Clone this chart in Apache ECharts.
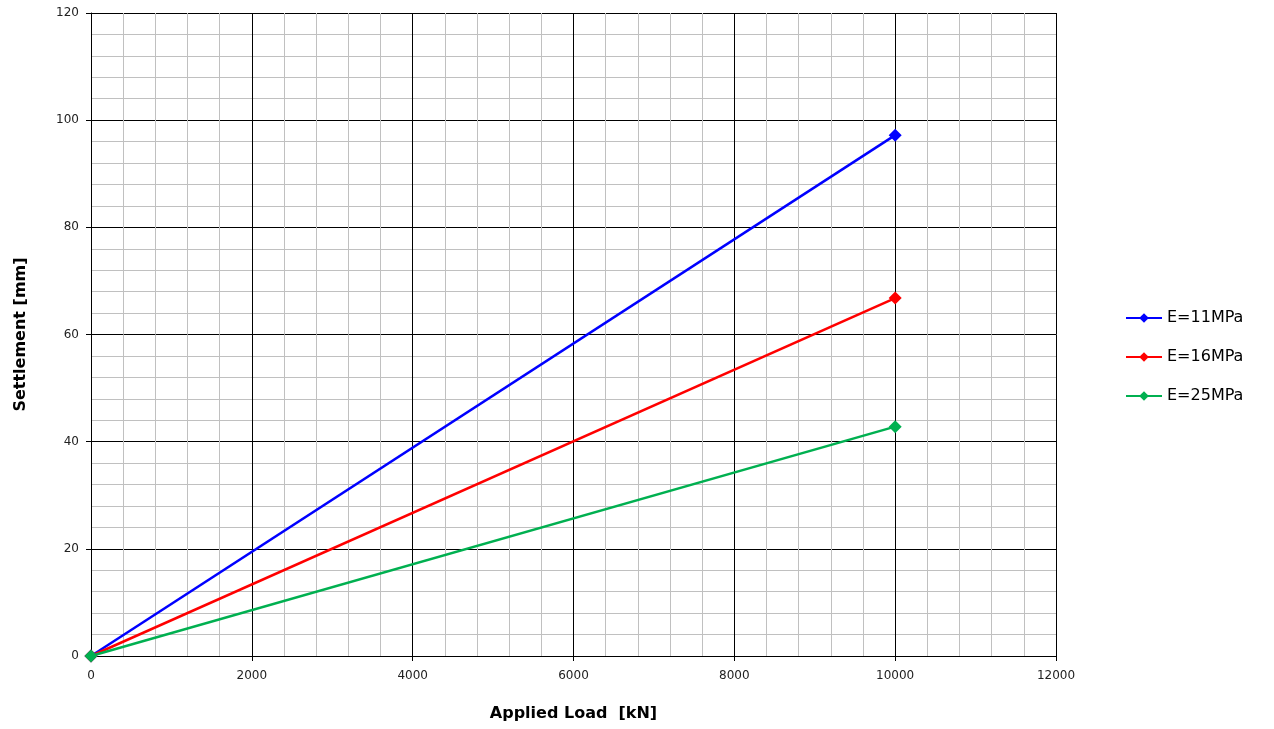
<!DOCTYPE html>
<html>
<head>
<meta charset="utf-8">
<script src="https://cdn.jsdelivr.net/npm/echarts@6/dist/echarts.min.js"></script>
<style>html,body{margin:0;padding:0;background:#fff}#c{width:1274px;height:729px}</style>
</head>
<body>
<div id="c"></div>
<script>
const seriesNames = ['E=11MPa', 'E=16MPa', 'E=25MPa'];
const seriesColors = ['#0000ff', '#ff0000', '#00b050'];
const loads = [0, 10000];
const settlement11 = [0, 97.2];
const settlement16 = [0, 66.8];
const settlement25 = [0, 42.8];

const allValues = [settlement11, settlement16, settlement25];
const chart = echarts.init(document.getElementById('c'));
const font = 'DejaVu Sans';
chart.setOption({
  animation: false,
  grid: {left: 91, top: 13, width: 965, height: 643},
  legend: {
    orient: 'vertical', left: 1120, top: 305, itemGap: 23, itemWidth: 36, itemHeight: 12,
    textStyle: {fontFamily: font, fontSize: 16, color: '#000'},
    data: seriesNames
  },
  xAxis: {
    type: 'value', min: 0, max: 12000, interval: 2000,
    name: 'Applied Load  [kN]', nameLocation: 'middle', nameGap: 50,
    nameTextStyle: {fontFamily: font, fontSize: 16, fontWeight: 'bold', color: '#000'},
    axisLine: {lineStyle: {color: '#000', width: 1}},
    axisTick: {show: true, length: 5, lineStyle: {color: '#000'}},
    axisLabel: {fontFamily: font, fontSize: 12, color: '#222', margin: 14, formatter: v => String(v)},
    splitLine: {lineStyle: {color: '#000', width: 1}},
    minorTick: {show: false, splitNumber: 5},
    minorSplitLine: {show: true, lineStyle: {color: '#c0c0c0', width: 1}}
  },
  yAxis: {
    type: 'value', min: 0, max: 120, interval: 20,
    name: 'Settlement [mm]', nameLocation: 'middle', nameGap: 62, nameRotate: 90,
    nameTextStyle: {fontFamily: font, fontSize: 16, fontWeight: 'bold', color: '#000'},
    axisLine: {show: true, lineStyle: {color: '#000', width: 1}},
    axisTick: {show: true, length: 5, lineStyle: {color: '#000'}},
    axisLabel: {fontFamily: font, fontSize: 12, color: '#222', margin: 12},
    splitLine: {lineStyle: {color: '#000', width: 1}},
    minorTick: {show: false, splitNumber: 5},
    minorSplitLine: {show: true, lineStyle: {color: '#c0c0c0', width: 1}}
  },
  series: seriesNames.map((n, i) => ({
    name: n, type: 'line',
    data: loads.map((x, j) => [x, allValues[i][j]]),
    symbol: 'diamond', symbolSize: 13,
    lineStyle: {color: seriesColors[i], width: 2.5},
    itemStyle: {color: seriesColors[i]}
  }))
});
</script>
</body>
</html>
